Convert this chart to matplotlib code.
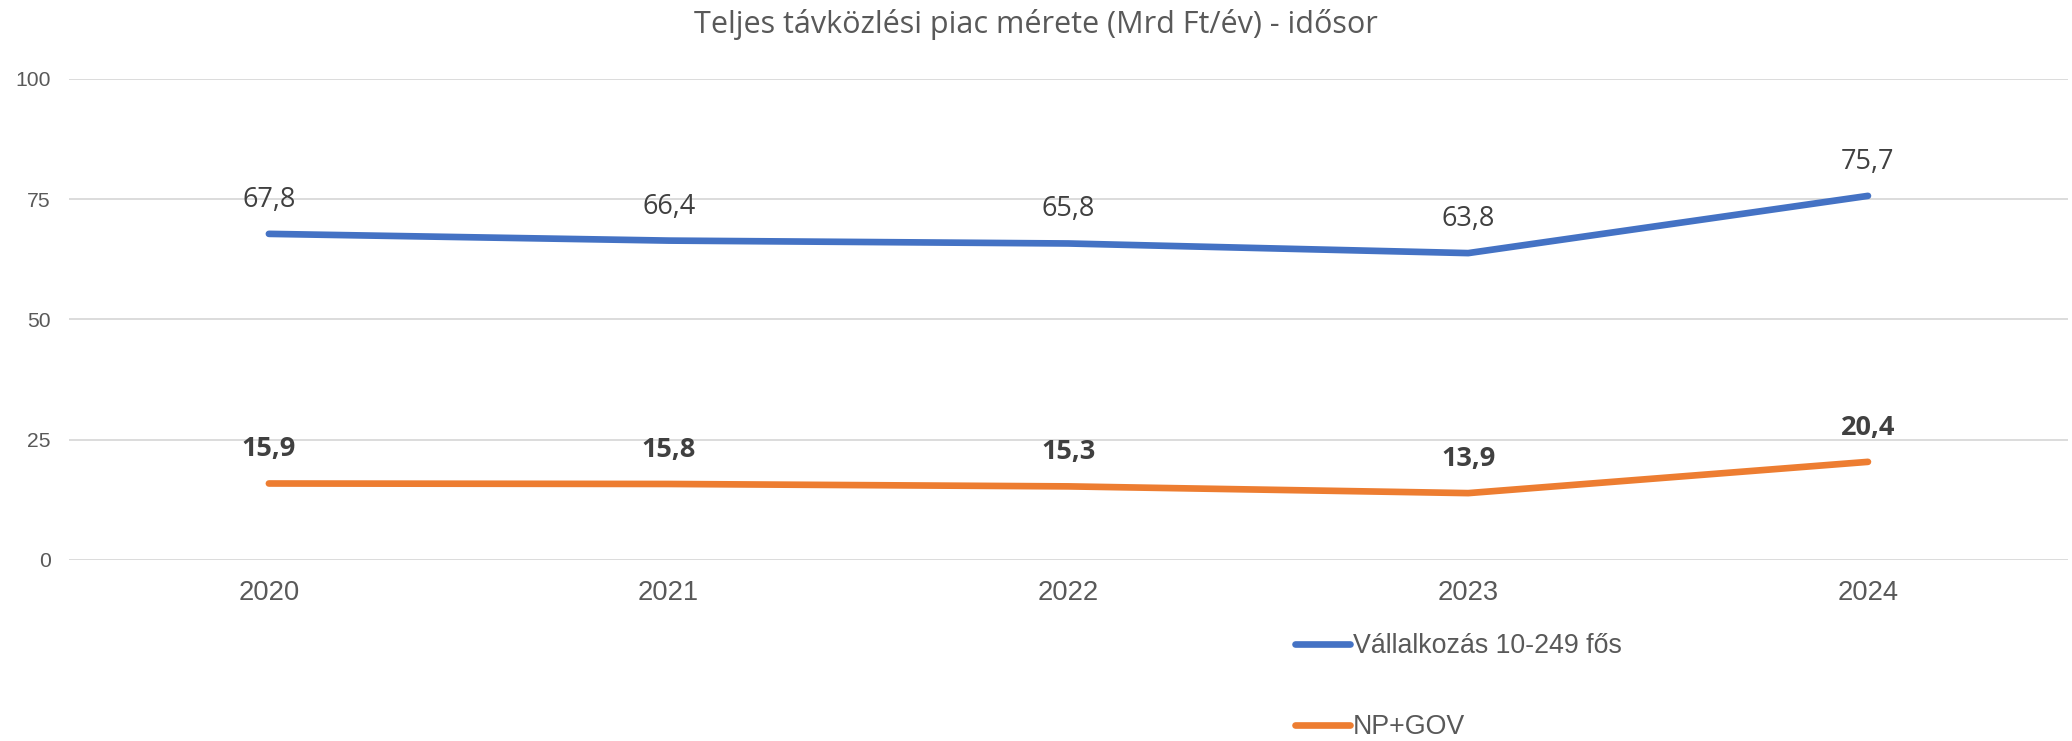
import matplotlib
matplotlib.use("Agg")
import matplotlib.pyplot as plt

# adatok
years = ["2020", "2021", "2022", "2023", "2024"]
vallalkozas = [67.8, 66.4, 65.8, 63.8, 75.7]
np_gov = [15.9, 15.8, 15.3, 13.9, 20.4]
series_names = ["Vállalkozás 10-249 fős", "NP+GOV"]
yticks = [0, 25, 50, 75, 100]

blue = "#4472C4"
orange = "#ED7D31"
grid_c = "#D9D9D9"
txt_c = "#595959"
lbl_c = "#404040"

fig = plt.figure(figsize=(20.72, 7.41), dpi=100)
ax = fig.add_axes([0.0333, 0.2443, 0.9647, 0.6491])

x = list(range(len(years)))
l1, = ax.plot(x, vallalkozas, color=blue, lw=4.8, solid_capstyle="round")
l2, = ax.plot(x, np_gov, color=orange, lw=4.8, solid_capstyle="round")

for i in x:
    ax.annotate(f"{vallalkozas[i]:.1f}".replace(".", ","), (i, vallalkozas[i]),
                xytext=(0, 24.5), textcoords="offset points", ha="center", va="center",
                fontsize=19.5, color=lbl_c, family="Open Sans")
    ax.annotate(f"{np_gov[i]:.1f}".replace(".", ","), (i, np_gov[i]),
                xytext=(0, 24.5), textcoords="offset points", ha="center", va="center",
                fontsize=19.5, color=lbl_c, family="Open Sans", fontweight="bold")

ax.set_xlim(-0.5, 4.5)
ax.set_ylim(0, 100)
ax.set_yticks(yticks)
ax.set_xticks(x)
ax.set_xticklabels(years)
ax.grid(axis="y", color=grid_c, lw=1.3)
ax.set_axisbelow(True)
for s in ax.spines.values():
    s.set_visible(False)
ax.tick_params(axis="both", length=0, labelcolor=txt_c)
ax.tick_params(axis="y", pad=13, labelsize=15.2)
ax.tick_params(axis="x", pad=14.5, labelsize=19.7)
for t in ax.get_xticklabels() + ax.get_yticklabels():
    t.set_family("Liberation Sans")

fig.text(0.5, 0.967, "Teljes távközlési piac mérete (Mrd Ft/év) - idősor",
         ha="center", va="center", fontsize=22, color=txt_c, family="Open Sans")

leg = fig.legend([l1, l2], series_names, loc="upper left",
                 bbox_to_anchor=(0.6133, 0.178), frameon=False, ncol=1,
                 handlelength=2.07, handletextpad=0.1, labelspacing=2.05,
                 prop={"family": "Liberation Sans", "size": 19.3})
for t in leg.get_texts():
    t.set_color(txt_c)

fig.savefig("out.png", dpi=100)
